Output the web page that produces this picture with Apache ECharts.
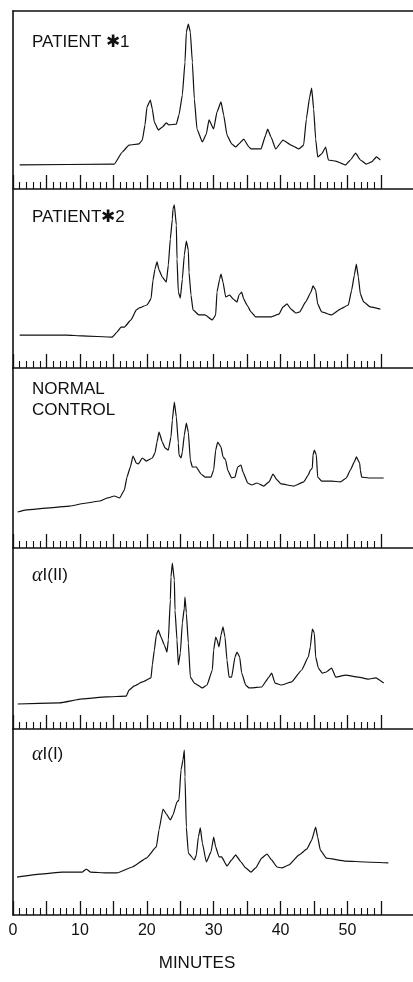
<!DOCTYPE html>
<html>
<head>
<meta charset="UTF-8">
<title>Chromatograms</title>
<script src="https://cdn.jsdelivr.net/npm/echarts@6/dist/echarts.min.js"></script>
</head>
<body style="margin:0;background:#fff;">
	<div id="main" style="width:413px;height:982px;"></div>
	<script type="text/javascript">
	// [minutes, relative absorbance 0-100 of panel height]
	var patient1 = [[1.0,13.5],[15.2,14.0],[16.4,20.8],[17.4,24.7],[18.9,25.3],[19.4,27.5],[19.8,36.0],[20.1,46.1],[20.6,50.0],[20.9,44.9],[21.2,37.6],[21.8,33.1],[22.4,34.8],[23.0,37.1],[23.4,36.0],[24.5,36.5],[24.9,41.6],[25.4,52.8],[25.8,71.3],[26.0,88.2],[26.3,92.7],[26.6,88.2],[26.9,71.3],[27.2,50.6],[27.6,33.7],[28.4,26.4],[29.0,30.9],[29.4,38.8],[30.1,33.7],[30.6,43.3],[31.2,48.9],[31.6,41.6],[32.1,30.3],[32.8,25.3],[33.4,23.6],[33.9,25.3],[34.6,28.1],[35.4,23.6],[35.7,22.5],[37.2,22.5],[37.9,30.3],[38.2,33.7],[38.7,29.2],[39.4,22.5],[40.5,27.5],[41.7,24.7],[42.9,22.5],[43.6,24.7],[44.0,39.3],[44.5,51.7],[44.8,56.7],[45.1,44.9],[45.4,28.1],[45.7,18.0],[46.3,19.7],[46.9,23.6],[47.3,16.3],[48.4,15.7],[49.9,13.5],[50.6,16.3],[51.4,20.2],[52.1,16.3],[53.0,14.0],[53.8,15.2],[54.5,18.0],[55.1,16.3]];
	var patient2 = [[1.0,18.5],[8.0,18.5],[10.4,18.0],[14.9,17.4],[15.6,20.2],[16.2,23.0],[16.7,23.0],[17.7,27.0],[18.5,32.6],[18.9,33.7],[20.1,35.4],[20.7,38.8],[21.0,49.4],[21.3,55.6],[21.6,59.6],[21.9,55.1],[22.4,51.1],[23.0,48.3],[23.3,57.9],[23.6,72.5],[23.9,83.7],[24.0,89.3],[24.2,91.6],[24.5,80.3],[24.6,61.2],[24.8,42.7],[25.1,39.3],[25.4,50.0],[25.7,63.5],[26.0,71.3],[26.3,66.3],[26.4,53.9],[26.7,41.0],[27.0,32.6],[27.9,29.8],[28.8,29.8],[29.9,27.0],[30.4,29.8],[30.6,42.7],[31.0,50.0],[31.2,52.8],[31.5,48.3],[31.9,39.9],[32.5,41.0],[33.0,38.8],[33.6,37.1],[33.9,41.0],[34.3,42.7],[34.6,38.8],[35.1,35.4],[35.7,31.5],[36.4,28.7],[37.6,28.7],[38.7,28.7],[39.9,30.3],[40.5,34.3],[41.1,36.0],[41.7,33.1],[42.4,30.9],[43.0,31.5],[43.9,37.1],[44.7,42.7],[45.0,46.1],[45.4,43.8],[45.7,36.0],[46.3,31.5],[47.8,29.8],[49.1,33.1],[50.3,35.4],[50.8,43.8],[51.2,52.2],[51.5,58.4],[51.8,51.1],[52.1,41.6],[52.6,37.1],[53.6,34.3],[55.1,33.1]];
	var normalControl = [[0.7,20.0],[2.0,21.2],[5.5,22.3],[8.5,23.3],[11.0,25.0],[13.0,26.1],[14.2,27.8],[15.2,28.9],[16.0,27.8],[16.7,32.2],[17.1,39.4],[17.6,45.0],[18.0,51.1],[18.5,47.2],[18.8,46.7],[19.4,50.0],[20.0,48.3],[20.9,50.0],[21.3,52.8],[21.6,58.9],[21.9,64.4],[22.4,58.9],[22.8,55.6],[23.3,54.4],[23.7,61.7],[23.9,71.1],[24.2,81.1],[24.5,72.8],[24.8,58.3],[24.9,51.7],[25.2,50.0],[25.4,53.3],[25.7,62.8],[26.0,69.4],[26.3,64.4],[26.6,48.9],[26.9,45.0],[27.5,45.0],[28.2,41.1],[28.8,39.4],[29.7,39.4],[30.1,43.3],[30.4,54.4],[30.7,58.9],[31.2,56.1],[31.5,50.6],[31.9,48.9],[32.2,43.3],[32.8,38.9],[33.3,39.4],[33.7,45.0],[34.2,46.1],[34.5,42.2],[35.2,36.1],[35.8,35.0],[36.6,36.1],[37.6,34.4],[38.4,36.7],[39.0,41.1],[39.6,37.8],[40.2,35.6],[42.1,34.4],[43.6,36.7],[44.3,40.6],[44.6,43.3],[44.9,44.4],[45.0,51.7],[45.2,54.4],[45.5,51.7],[45.7,39.4],[46.3,37.2],[47.8,37.2],[49.1,36.7],[50.0,38.9],[50.6,43.3],[51.2,47.8],[51.5,50.6],[52.0,47.2],[52.1,43.3],[52.3,39.4],[53.3,38.9],[55.6,38.9]];
	var alphaI_II = [[0.7,13.8],[7.0,14.4],[10.4,16.6],[14.0,17.7],[17.0,18.2],[17.4,21.5],[18.2,23.8],[19.4,26.0],[20.7,28.2],[20.9,35.4],[21.2,43.6],[21.5,51.9],[21.8,54.7],[22.2,50.8],[22.7,46.4],[23.1,42.5],[23.3,49.2],[23.6,71.3],[23.7,84.0],[23.9,91.7],[24.2,82.3],[24.3,65.7],[24.6,49.2],[24.8,35.4],[25.1,42.0],[25.4,58.6],[25.7,66.9],[25.8,72.9],[26.0,64.1],[26.3,47.5],[26.6,28.7],[27.2,25.4],[28.4,22.7],[29.1,24.3],[29.9,32.6],[30.1,43.6],[30.4,50.8],[30.6,49.2],[30.9,45.3],[31.2,51.9],[31.5,56.4],[31.8,50.8],[32.1,38.1],[32.4,28.7],[32.8,28.7],[33.3,39.8],[33.6,42.5],[34.0,39.8],[34.3,30.9],[34.9,24.3],[35.4,22.7],[35.8,22.7],[37.3,23.2],[38.4,28.7],[38.8,30.9],[39.3,25.4],[40.2,24.3],[41.8,26.0],[43.3,32.6],[44.3,39.8],[44.6,45.3],[44.9,55.2],[45.2,53.0],[45.4,39.8],[45.8,33.7],[46.4,30.9],[47.0,31.5],[47.8,33.7],[48.4,28.7],[49.9,29.8],[51.8,28.7],[53.3,27.6],[54.4,28.2],[55.6,25.4]];
	var alphaI_I = [[0.6,20.4],[4.0,22.0],[7.4,23.1],[10.4,23.1],[11.0,24.7],[11.6,23.1],[14.0,22.6],[15.6,22.6],[17.9,25.8],[20.0,30.6],[21.5,36.6],[21.9,45.7],[22.5,57.0],[23.0,54.3],[23.6,51.1],[24.0,53.8],[24.6,60.8],[24.9,61.8],[25.2,78.0],[25.5,83.3],[25.7,88.7],[25.8,74.2],[26.0,47.3],[26.3,33.3],[27.2,29.6],[27.5,32.3],[27.8,41.9],[28.1,46.8],[28.4,38.7],[29.0,28.5],[29.7,33.9],[30.1,41.9],[30.4,36.6],[30.9,31.2],[31.3,31.2],[32.1,26.3],[32.8,29.6],[33.4,32.3],[34.2,28.5],[34.9,25.3],[35.7,23.1],[36.4,25.3],[37.3,30.6],[38.1,32.8],[38.8,29.6],[39.6,25.8],[40.3,25.3],[41.4,26.9],[42.9,32.3],[44.1,35.5],[44.8,40.3],[45.4,47.3],[45.7,41.9],[46.1,34.9],[47.0,30.6],[49.9,29.0],[52.9,28.5],[56.3,28.0]];

	var panelNames = ['PATIENT \u27311', 'PATIENT\u27312', 'NORMAL\nCONTROL', '{a|\u03b1}I(II)', '{a|\u03b1}I(I)'];
	var minuteLabels = [0, 10, 20, 30, 40, 50];
	var xTitle = 'MINUTES';

	var traces = [patient1, patient2, normalControl, alphaI_II, alphaI_I];
	var panelTop = [11, 190, 368, 548, 729];
	var panelHeight = [178, 178, 180, 181, 186];
	var nameTop = [32, 207, 379, 565, 744];
	var pxPerMin = 6.69;
	var ink = '#111';
	var font = '"Liberation Sans", Arial, sans-serif';

	var chartDom = document.getElementById('main');
	var myChart = echarts.init(chartDom);

	var grid = [], xAxis = [], yAxis = [], series = [], title = [];
	for (var i = 0; i < traces.length; i++) {
		var last = i === traces.length - 1;
		// trace grid, full width
		grid.push({left: 13, top: panelTop[i], width: 60 * pxPerMin, height: panelHeight[i]});
		// tick grid, 0-55 min
		grid.push({left: 13, top: panelTop[i], width: 55 * pxPerMin, height: panelHeight[i]});
		xAxis.push({
			gridIndex: 2 * i, type: 'value', min: 0, max: 60, position: 'bottom',
			axisLine: {show: true, lineStyle: {color: ink, width: 1.6}},
			axisTick: {show: false}, axisLabel: {show: false}, splitLine: {show: false}
		});
		xAxis.push({
			gridIndex: 2 * i + 1, type: 'value', min: 0, max: 55, interval: 5, position: 'bottom',
			axisLine: {show: false},
			axisTick: {show: true, inside: true, length: 14, lineStyle: {color: ink, width: 1.3}},
			minorTick: {show: true, splitNumber: 5, length: 7, lineStyle: {color: ink, width: 1.1}},
			splitLine: {show: false},
			axisLabel: {
				show: last, margin: 8, color: ink, fontSize: 16, fontFamily: font,
				formatter: function (v) { return minuteLabels.indexOf(v) >= 0 ? String(v) : ''; }
			},
			name: last ? xTitle : '', nameLocation: 'middle', nameGap: 40,
			nameTextStyle: {color: ink, fontSize: 17, fontFamily: font}
		});
		yAxis.push({
			gridIndex: 2 * i, type: 'value', min: 0, max: 100,
			axisLine: {show: true, lineStyle: {color: ink, width: 1.6}},
			axisTick: {show: false}, axisLabel: {show: false}, splitLine: {show: false}
		});
		yAxis.push({gridIndex: 2 * i + 1, type: 'value', min: 0, max: 100, show: false});
		series.push({
			type: 'line', xAxisIndex: 2 * i, yAxisIndex: 2 * i, data: traces[i],
			showSymbol: false, smooth: 0.12, smoothMonotone: 'x', silent: true,
			lineStyle: {color: ink, width: 1.2}
		});
		title.push({
			text: panelNames[i], left: 32, top: nameTop[i], padding: 0,
			textStyle: {
				color: ink, fontSize: 17, fontWeight: 'normal', fontFamily: font, lineHeight: 21,
				rich: {a: {fontFamily: '"Liberation Serif", serif', fontStyle: 'italic', fontSize: 20, color: ink}}
			}
		});
	}
	// top border of the first panel
	xAxis.push({
		gridIndex: 0, type: 'value', min: 0, max: 60, position: 'top',
		axisLine: {show: true, lineStyle: {color: ink, width: 1.6}},
		axisTick: {show: false}, axisLabel: {show: false}, splitLine: {show: false}
	});

	myChart.setOption({
		animation: false,
		backgroundColor: '#fff',
		title: title,
		grid: grid,
		xAxis: xAxis,
		yAxis: yAxis,
		series: series
	});
	</script>
</body>
</html>
